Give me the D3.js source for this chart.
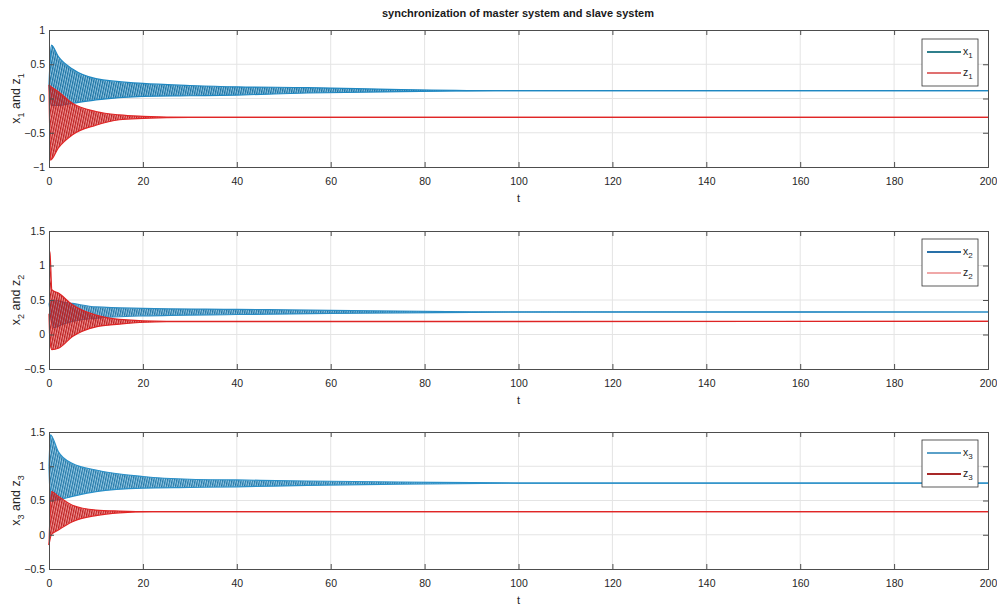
<!DOCTYPE html>
<html>
<head>
<meta charset="utf-8">
<script src="https://cdn.jsdelivr.net/npm/d3@7"></script>
<style>
    body { margin: 0; background: #fff; }
    svg { font-family: "Liberation Sans", Arial, sans-serif; }
</style>
</head>
<body>
<div id="chart"></div>
<script>
// envelopes (upper / lower of the decaying oscillation)
const tX1 = [0, 0.5, 2, 5, 10, 20, 30, 40, 55, 75, 95, 200];
const x1Upper = [0.2, 0.78, 0.61, 0.43, 0.29, 0.22, 0.19, 0.17, 0.16, 0.13, 0.115, 0.114];
const x1Lower = [0.2, -0.1, -0.1, -0.07, -0.02, 0.03, 0.04, 0.05, 0.08, 0.1, 0.113, 0.114];
const tZ1 = [0, 0.3, 2, 5, 10, 15, 20, 30, 200];
const z1Upper = [0.2, 0.18, 0.1, -0.07, -0.19, -0.24, -0.26, -0.275, -0.275];
const z1Lower = [0.2, -0.9, -0.72, -0.53, -0.39, -0.31, -0.29, -0.275, -0.275];

const tX2 = [0, 1, 3, 5, 10, 20, 40, 60, 90, 200];
const x2Upper = [0.45, 0.5, 0.47, 0.45, 0.40, 0.38, 0.365, 0.35, 0.33, 0.326];
const x2Lower = [0.45, 0.1, 0.15, 0.19, 0.235, 0.27, 0.29, 0.305, 0.322, 0.326];
const tZ2 = [0, 0.2, 0.6, 2, 5, 10, 15, 25, 200];
const z2Upper = [1.2, 1.2, 0.65, 0.6, 0.43, 0.28, 0.22, 0.19, 0.19];
const z2Lower = [0.3, -0.1, -0.22, -0.2, -0.03, 0.11, 0.15, 0.185, 0.19];

const tX3 = [0, 0.3, 2, 5, 10, 20, 30, 40, 55, 75, 100, 200];
const x3Upper = [1.0, 1.46, 1.21, 1.04, 0.945, 0.85, 0.81, 0.8, 0.785, 0.77, 0.755, 0.755];
const x3Lower = [1.0, 0.5, 0.51, 0.56, 0.63, 0.68, 0.69, 0.70, 0.72, 0.74, 0.753, 0.755];
const tZ3 = [0, 0.5, 2, 5, 10, 15, 22, 200];
const z3Upper = [-0.15, 0.63, 0.56, 0.43, 0.36, 0.345, 0.337, 0.337];
const z3Lower = [-0.15, 0.0, 0.07, 0.19, 0.28, 0.32, 0.337, 0.337];

const xTicks = [0, 20, 40, 60, 80, 100, 120, 140, 160, 180, 200];
const yTicks1 = [-1, -0.5, 0, 0.5, 1];
const yTicks23 = [-0.5, 0, 0.5, 1, 1.5];

const panels = [
    { idx: '1', top: 30, bottom: 167, domain: [-1, 1], ticks: yTicks1,
      legendY: 39, legendColors: ['#2f7f8c', '#e07070'],
      x: { t: tX1, up: x1Upper, lo: x1Lower, color: '#1f88c2' },
      z: { t: tZ1, up: z1Upper, lo: z1Lower, color: '#e02626' } },
    { idx: '2', top: 231, bottom: 369, domain: [-0.5, 1.5], ticks: yTicks23,
      legendY: 239, legendColors: ['#2870a8', '#f0a8a8'],
      x: { t: tX2, up: x2Upper, lo: x2Lower, color: '#2a8cc4' },
      z: { t: tZ2, up: z2Upper, lo: z2Lower, color: '#de2424' } },
    { idx: '3', top: 432, bottom: 569, domain: [-0.5, 1.5], ticks: yTicks23,
      legendY: 440, legendColors: ['#5aa0c8', '#a82828'],
      x: { t: tX3, up: x3Upper, lo: x3Lower, color: '#2a90c8' },
      z: { t: tZ3, up: z3Upper, lo: z3Lower, color: '#e02626' } }
];

const W = 997, H = 608;
const left = 49, right = 988;

const svg = d3.select('#chart').append('svg')
    .attr('width', W)
    .attr('height', H);

const defs = svg.append('defs');

// hatch patterns to mimic the dense oscillation
function makePattern(id, color) {
    const p = defs.append('pattern')
        .attr('id', id)
        .attr('patternUnits', 'userSpaceOnUse')
        .attr('width', 2.3)
        .attr('height', 10)
        .attr('patternTransform', 'skewX(-12)');
    p.append('rect').attr('width', 2.3).attr('height', 10)
        .attr('fill', color).attr('opacity', 0.5);
    p.append('rect').attr('width', 1.2).attr('height', 10)
        .attr('fill', d3.color(color).darker(0.5));
}

svg.append('text')
    .attr('x', 518)
    .attr('y', 17)
    .attr('text-anchor', 'middle')
    .attr('font-size', '11px')
    .attr('font-weight', 'bold')
    .attr('fill', '#1a1a1a')
    .text('synchronization of master system and slave system');

const x = d3.scaleLinear().domain([0, 200]).range([left, right]);

panels.forEach((pn, i) => {
    const y = d3.scaleLinear().domain(pn.domain).range([pn.bottom, pn.top]);
    const g = svg.append('g');

    // grid
    g.selectAll('.gx').data(xTicks.slice(1, -1)).enter().append('line')
        .attr('x1', d => x(d)).attr('x2', d => x(d))
        .attr('y1', pn.top).attr('y2', pn.bottom)
        .attr('stroke', '#e4e4e4').attr('stroke-width', 1);
    g.selectAll('.gy').data(pn.ticks.slice(1, -1)).enter().append('line')
        .attr('x1', left).attr('x2', right)
        .attr('y1', d => y(d)).attr('y2', d => y(d))
        .attr('stroke', '#e4e4e4').attr('stroke-width', 1);

    // series: x first, z drawn on top
    ['x', 'z'].forEach(k => {
        const s = pn[k];
        const pid = `hatch-${k}${pn.idx}`;
        makePattern(pid, s.color);
        const pts = s.t.map((t, j) => ({ t, up: s.up[j], lo: s.lo[j] }));
        const area = d3.area()
            .x(d => x(d.t))
            .y0(d => y(d.lo))
            .y1(d => y(d.up))
            .curve(d3.curveMonotoneX);
        g.append('path').datum(pts)
            .attr('d', area)
            .attr('fill', `url(#${pid})`);
        ['up', 'lo'].forEach(e => {
            const line = d3.line()
                .x(d => x(d.t))
                .y(d => y(d[e]))
                .curve(d3.curveMonotoneX);
            g.append('path').datum(pts)
                .attr('d', line)
                .attr('fill', 'none')
                .attr('stroke', s.color)
                .attr('stroke-width', 1.2);
        });
    });

    // axes (MATLAB-like box with inward ticks)
    const axB = d3.axisBottom(x).tickValues(xTicks).tickSize(-5).tickPadding(11)
        .tickFormat(d3.format('d'));
    const axT = d3.axisTop(x).tickValues(xTicks).tickSize(-5).tickFormat('');
    const axL = d3.axisLeft(y).tickValues(pn.ticks).tickSize(-5).tickPadding(4)
        .tickFormat(d3.format(''));
    const axR = d3.axisRight(y).tickValues(pn.ticks).tickSize(-5).tickFormat('');

    const styleAx = sel => {
        sel.selectAll('path.domain').attr('stroke', '#4d4d4d');
        sel.selectAll('.tick line').attr('stroke', '#4d4d4d');
        sel.selectAll('text').attr('fill', '#262626')
            .attr('font-size', '10.5px')
            .attr('font-family', '"Liberation Sans", Arial, sans-serif');
    };
    g.append('g').attr('transform', `translate(0,${pn.bottom})`).call(axB).call(styleAx);
    g.append('g').attr('transform', `translate(0,${pn.top})`).call(axT).call(styleAx);
    g.append('g').attr('transform', `translate(${left},0)`).call(axL).call(styleAx);
    g.append('g').attr('transform', `translate(${right},0)`).call(axR).call(styleAx);

    // x label
    g.append('text')
        .attr('x', x(100))
        .attr('y', pn.bottom + 35)
        .attr('text-anchor', 'middle')
        .attr('font-size', '11px')
        .attr('fill', '#262626')
        .text('t');

    // y label
    const yl = g.append('text')
        .attr('transform', `translate(20,${(pn.top + pn.bottom) / 2}) rotate(-90)`)
        .attr('text-anchor', 'middle')
        .attr('font-size', '12.5px')
        .attr('fill', '#262626');
    yl.append('tspan').text('x');
    yl.append('tspan').attr('dy', 4).attr('font-size', '9px').text(pn.idx);
    yl.append('tspan').attr('dy', -4).text(' and z');
    yl.append('tspan').attr('dy', 4).attr('font-size', '9px').text(pn.idx);

    // legend
    const lg = g.append('g').attr('transform', `translate(922,${pn.legendY})`);
    lg.append('rect')
        .attr('width', 56).attr('height', 47)
        .attr('fill', '#fff').attr('stroke', '#333').attr('stroke-width', 0.8);
    ['x', 'z'].forEach((k, j) => {
        const ly = 13 + j * 21;
        lg.append('line')
            .attr('x1', 5).attr('x2', 39)
            .attr('y1', ly).attr('y2', ly)
            .attr('stroke', pn.legendColors[j]).attr('stroke-width', 2);
        const lt = lg.append('text')
            .attr('x', 41).attr('y', ly + 3)
            .attr('font-size', '10.5px')
            .attr('fill', '#262626');
        lt.append('tspan').text(k);
        lt.append('tspan').attr('dy', 3).attr('font-size', '8px').text(pn.idx);
    });
});
</script>
</body>
</html>
